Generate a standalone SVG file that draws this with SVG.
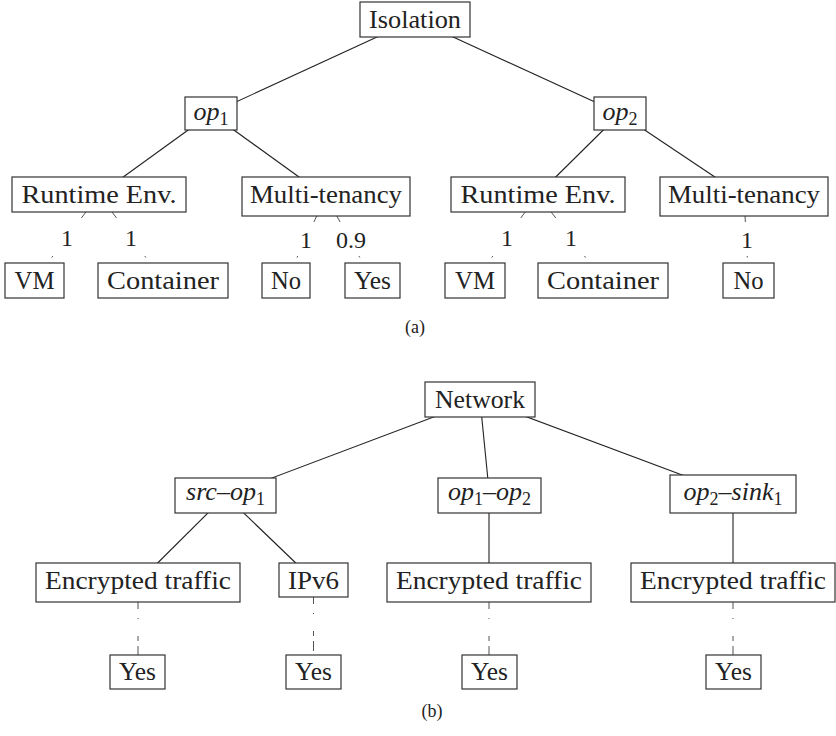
<svg xmlns="http://www.w3.org/2000/svg" width="836" height="736" viewBox="0 0 836 736">
<style>
.box{fill:#fff;stroke:#333;stroke-width:1.2}
.lbl{font-family:"Liberation Serif","Times New Roman",serif;font-size:26px;fill:#222;text-anchor:middle}
.it{font-style:italic}
.sub{font-size:18px}
.el{font-family:"Liberation Serif","Times New Roman",serif;font-size:24px;fill:#222;text-anchor:middle}
.cap{font-family:"Liberation Serif","Times New Roman",serif;font-size:18px;fill:#222;text-anchor:middle}
.edge{stroke:#222;stroke-width:1.1;fill:none}
.dot{stroke:#555;stroke-width:1;fill:none}
.vdot{stroke:#555;stroke-width:1;fill:none;stroke-dasharray:7 9 1 17 5 5 10}
</style>
<g id="connectors">
<line class="edge" x1="415" y1="19.5" x2="211" y2="113.5"/>
<line class="edge" x1="415" y1="19.5" x2="620" y2="113.5"/>
<line class="edge" x1="211" y1="113.5" x2="99" y2="194.5"/>
<line class="edge" x1="211" y1="113.5" x2="326" y2="196.5"/>
<line class="edge" x1="620" y1="113.5" x2="538" y2="194.5"/>
<line class="edge" x1="620" y1="113.5" x2="744" y2="196.5"/>
<path class="dot" d="M85.9 212L81.4 218M52.9 256L51.7 257.5"/>
<path class="dot" d="M112 212L116.5 218M144.8 256L145.9 257.5"/>
<path class="dot" d="M316.7 216L313.9 222M297.7 256L297 257.5"/>
<path class="dot" d="M336.8 216L340.1 222M358.9 256L359.8 257.5"/>
<path class="dot" d="M525.2 212L520.8 218M492.9 256L491.8 257.5"/>
<path class="dot" d="M551.2 212L555.8 218M584.5 256L585.6 257.5"/>
<path class="dot" d="M745 216L745.4 222M747.2 256L747.3 257.5"/>
<line class="edge" x1="480" y1="399.5" x2="225.5" y2="495.5"/>
<line class="edge" x1="480" y1="399.5" x2="489.5" y2="495.5"/>
<line class="edge" x1="480" y1="399.5" x2="733" y2="494"/>
<line class="edge" x1="225.5" y1="495.5" x2="138" y2="582.5"/>
<line class="edge" x1="225.5" y1="495.5" x2="313.5" y2="580"/>
<line class="edge" x1="489" y1="495.5" x2="489" y2="582.5"/>
<line class="edge" x1="733" y1="494" x2="733" y2="582.5"/>
<line class="vdot" x1="138" y1="602" x2="138" y2="655"/>
<line class="vdot" x1="313.5" y1="597" x2="313.5" y2="655"/>
<line class="vdot" x1="489" y1="602" x2="489" y2="655"/>
<line class="vdot" x1="733" y1="602" x2="733" y2="655"/>
</g>
<g id="isolation"><rect class="box" x="360" y="2" width="110" height="35"/><text class="lbl" x="415" y="28" textLength="92" lengthAdjust="spacingAndGlyphs">Isolation</text></g>
<g id="op1"><rect class="box" x="185" y="97" width="52" height="33"/><text class="lbl" x="211" y="120"><tspan class="it">op</tspan><tspan class="sub" dy="5">1</tspan></text></g>
<g id="op2"><rect class="box" x="594" y="97" width="52" height="33"/><text class="lbl" x="620" y="120"><tspan class="it">op</tspan><tspan class="sub" dy="5">2</tspan></text></g>
<g id="runtime1"><rect class="box" x="12" y="177" width="174" height="35"/><text class="lbl" x="99" y="203" textLength="155" lengthAdjust="spacingAndGlyphs">Runtime Env.</text></g>
<g id="multi1"><rect class="box" x="242" y="177" width="168" height="39"/><text class="lbl" x="326" y="203" textLength="152" lengthAdjust="spacingAndGlyphs">Multi-tenancy</text></g>
<g id="runtime2"><rect class="box" x="451" y="177" width="174" height="35"/><text class="lbl" x="538" y="203" textLength="155" lengthAdjust="spacingAndGlyphs">Runtime Env.</text></g>
<g id="multi2"><rect class="box" x="660" y="177" width="168" height="39"/><text class="lbl" x="744" y="203" textLength="152" lengthAdjust="spacingAndGlyphs">Multi-tenancy</text></g>
<g id="vm1"><rect class="box" x="5" y="263" width="59" height="35"/><text class="lbl" x="34.5" y="289" textLength="40" lengthAdjust="spacingAndGlyphs">VM</text></g>
<g id="container1"><rect class="box" x="98" y="263" width="130" height="35"/><text class="lbl" x="163" y="289" textLength="112" lengthAdjust="spacingAndGlyphs">Container</text></g>
<g id="no1"><rect class="box" x="262" y="263" width="48" height="35"/><text class="lbl" x="286" y="289" textLength="30" lengthAdjust="spacingAndGlyphs">No</text></g>
<g id="yes1"><rect class="box" x="345" y="263" width="55" height="35"/><text class="lbl" x="372.5" y="289" textLength="37" lengthAdjust="spacingAndGlyphs">Yes</text></g>
<g id="vm2"><rect class="box" x="445" y="263" width="60" height="35"/><text class="lbl" x="475" y="289" textLength="40" lengthAdjust="spacingAndGlyphs">VM</text></g>
<g id="container2"><rect class="box" x="538" y="263" width="130" height="35"/><text class="lbl" x="603" y="289" textLength="112" lengthAdjust="spacingAndGlyphs">Container</text></g>
<g id="no2"><rect class="box" x="723" y="263" width="51" height="35"/><text class="lbl" x="748.5" y="289" textLength="30" lengthAdjust="spacingAndGlyphs">No</text></g>
<g id="edge-labels">
<text class="el" x="67" y="246">1</text>
<text class="el" x="131" y="246">1</text>
<text class="el" x="306" y="248">1</text>
<text class="el" x="351" y="248">0.9</text>
<text class="el" x="507" y="246">1</text>
<text class="el" x="571" y="246">1</text>
<text class="el" x="747" y="248">1</text>
</g>
<text class="cap" x="415" y="333">(a)</text>
<g id="network"><rect class="box" x="425" y="382" width="110" height="35"/><text class="lbl" x="480" y="408" textLength="90" lengthAdjust="spacingAndGlyphs">Network</text></g>
<g id="src-op1"><rect class="box" x="175" y="478" width="101" height="35"/><text class="lbl" x="225.5" y="500"><tspan class="it">src</tspan>–<tspan class="it">op</tspan><tspan class="sub" dy="5">1</tspan></text></g>
<g id="op1-op2"><rect class="box" x="438" y="478" width="103" height="35"/><text class="lbl" x="489.5" y="500"><tspan class="it">op</tspan><tspan class="sub" dy="5">1</tspan><tspan dy="-5">–</tspan><tspan class="it">op</tspan><tspan class="sub" dy="5">2</tspan></text></g>
<g id="op2-sink1"><rect class="box" x="670" y="475" width="126" height="38"/><text class="lbl" x="733" y="500"><tspan class="it">op</tspan><tspan class="sub" dy="5">2</tspan><tspan dy="-5">–</tspan><tspan class="it">sink</tspan><tspan class="sub" dy="5">1</tspan></text></g>
<g id="enc1"><rect class="box" x="36" y="563" width="204" height="39"/><text class="lbl" x="138" y="589" textLength="186" lengthAdjust="spacingAndGlyphs">Encrypted traffic</text></g>
<g id="ipv6"><rect class="box" x="279" y="563" width="69" height="34"/><text class="lbl" x="313.5" y="589" textLength="51" lengthAdjust="spacingAndGlyphs">IPv6</text></g>
<g id="enc2"><rect class="box" x="387" y="563" width="204" height="39"/><text class="lbl" x="489" y="589" textLength="186" lengthAdjust="spacingAndGlyphs">Encrypted traffic</text></g>
<g id="enc3"><rect class="box" x="631" y="563" width="204" height="39"/><text class="lbl" x="733" y="589" textLength="186" lengthAdjust="spacingAndGlyphs">Encrypted traffic</text></g>
<g id="yes-b1"><rect class="box" x="110" y="655" width="55" height="34"/><text class="lbl" x="137.5" y="680" textLength="37" lengthAdjust="spacingAndGlyphs">Yes</text></g>
<g id="yes-b2"><rect class="box" x="286" y="655" width="55" height="34"/><text class="lbl" x="313.5" y="680" textLength="37" lengthAdjust="spacingAndGlyphs">Yes</text></g>
<g id="yes-b3"><rect class="box" x="462" y="655" width="55" height="34"/><text class="lbl" x="489.5" y="680" textLength="37" lengthAdjust="spacingAndGlyphs">Yes</text></g>
<g id="yes-b4"><rect class="box" x="706" y="655" width="55" height="34"/><text class="lbl" x="733.5" y="680" textLength="37" lengthAdjust="spacingAndGlyphs">Yes</text></g>
<text class="cap" x="432" y="717">(b)</text>
</svg>
